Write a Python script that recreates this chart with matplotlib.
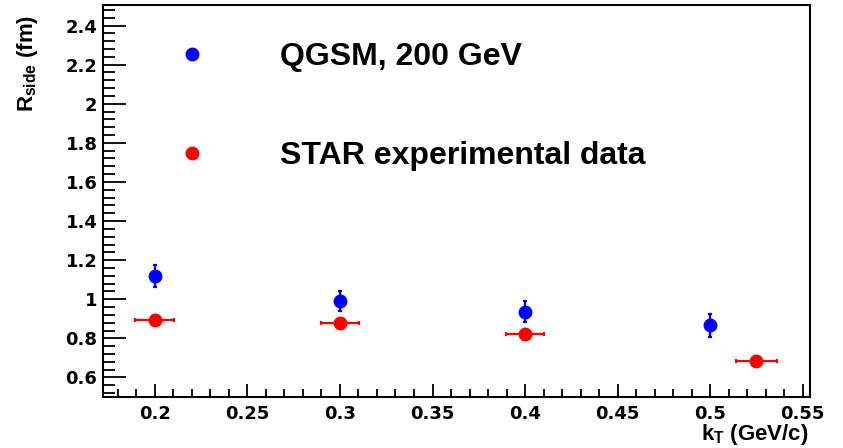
import matplotlib.pyplot as plt
from matplotlib.lines import Line2D
from matplotlib.ticker import MultipleLocator, FormatStrFormatter

# QGSM model, 200 GeV
qgsm_kt = [0.2, 0.3, 0.4, 0.5]
qgsm_r = [1.12, 0.99, 0.937, 0.867]
qgsm_err = [0.055, 0.05, 0.055, 0.06]

# STAR experimental data
star_kt = [0.2, 0.3, 0.4, 0.525]
star_r = [0.893, 0.881, 0.822, 0.682]
star_xerr = [0.0105, 0.0105, 0.0105, 0.011]
star_yerr = [0.01, 0.01, 0.01, 0.01]

labels = ['QGSM, 200 GeV', 'STAR experimental data']

plt.rcParams['mathtext.fontset'] = 'custom'
plt.rcParams['mathtext.rm'] = 'Liberation Sans:bold'
plt.rcParams['mathtext.it'] = 'Liberation Sans:bold'
plt.rcParams['mathtext.bf'] = 'Liberation Sans:bold'

fig = plt.figure(figsize=(8.43, 4.48), dpi=100)
ax = fig.add_axes([0.1222, 0.1138, 0.8388, 0.875])

ax.errorbar(qgsm_kt, qgsm_r, yerr=qgsm_err, fmt='o', color='blue', ms=9,
            elinewidth=1.6, capsize=1.5, capthick=1.6)
ax.errorbar(star_kt, star_r, xerr=star_xerr, yerr=star_yerr, fmt='o', color='red',
            ms=9, elinewidth=1.6, capsize=1.5, capthick=1.6)

ax.set_xlim(0.172, 0.554)
ax.set_ylim(0.5, 2.505)

ax.xaxis.set_major_locator(MultipleLocator(0.05))
ax.xaxis.set_minor_locator(MultipleLocator(0.01))
ax.yaxis.set_major_locator(MultipleLocator(0.2))
ax.yaxis.set_minor_locator(MultipleLocator(0.04))
ax.xaxis.set_major_formatter(FormatStrFormatter('%g'))
ax.yaxis.set_major_formatter(FormatStrFormatter('%g'))

for s in ax.spines.values():
    s.set_linewidth(1.5)

ax.tick_params(which='both', direction='in', top=False, right=False, width=1.3)
ax.tick_params(axis='y', which='major', length=16.5, pad=4)
ax.tick_params(axis='y', which='minor', length=8.6)
ax.tick_params(axis='x', which='major', length=9.4, pad=6)
ax.tick_params(axis='x', which='minor', length=5.8)
for lab in ax.get_xticklabels() + ax.get_yticklabels():
    lab.set_family('DejaVu Sans')
    lab.set_weight('bold')
    lab.set_fontsize(13)

ax.set_ylabel(r'R$_{\rm side}$ (fm)', family='Liberation Sans', weight='bold',
              fontsize=16, loc='top')
ax.yaxis.set_label_coords(-0.089, 0.975)
ax.set_xlabel(r'k$_{\rm T}$ (GeV/c)', family='Liberation Sans', weight='bold',
              fontsize=16, loc='right')
ax.xaxis.set_label_coords(0.9975, -0.064)

handles = [Line2D([], [], marker='o', ls='none', color='blue', ms=9),
           Line2D([], [], marker='o', ls='none', color='red', ms=9)]
ax.legend(handles, labels, loc='upper left', bbox_to_anchor=(0.103, 0.905),
          frameon=False, borderpad=0, borderaxespad=0, handlelength=1.0,
          handletextpad=2.26, labelspacing=2.15,
          prop={'family': 'Liberation Sans', 'weight': 'bold', 'size': 23})

fig.savefig('out.png', dpi=100)
